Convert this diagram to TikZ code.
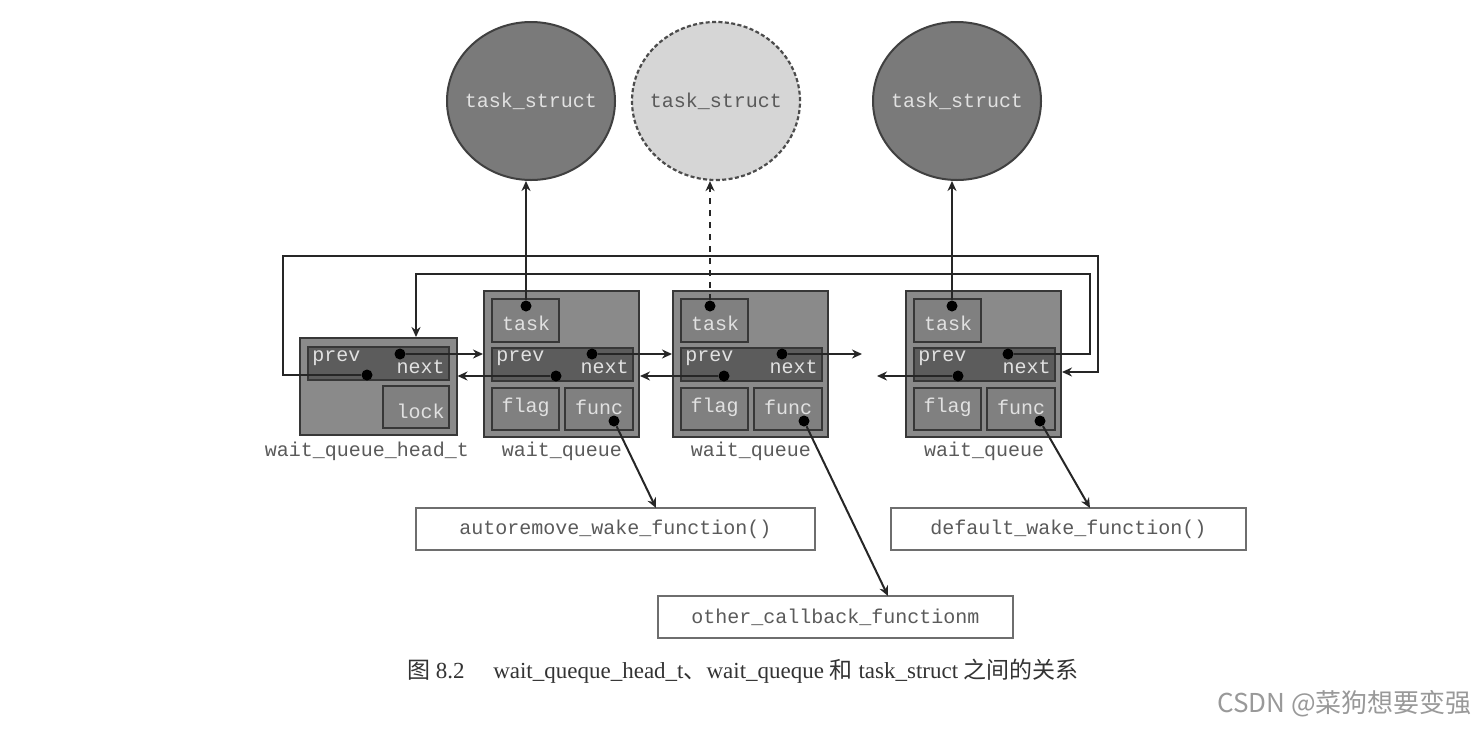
\documentclass[tikz,border=0pt]{standalone}
\usepackage{fontspec}
\setmainfont{Liberation Serif}
\setmonofont{Liberation Mono}
\newfontfamily\cjk{Noto Sans CJK SC}
\usetikzlibrary{arrows.meta,shapes.geometric}
\definecolor{boxfill}{RGB}{138,138,138}
\definecolor{cellfill}{RGB}{128,128,128}
\definecolor{barfill}{RGB}{92,92,92}
\definecolor{celltext}{RGB}{225,225,225}
\definecolor{circdark}{RGB}{122,122,122}
\definecolor{circlight}{RGB}{214,214,214}
\definecolor{labelgray}{RGB}{90,90,90}
\definecolor{edgegray}{RGB}{55,55,55}
\definecolor{fnedge}{RGB}{110,110,110}
\tikzset{
  mono/.style={font=\ttfamily\fontsize{10}{12}\selectfont},
  outerbox/.style={draw=edgegray, line width=1pt, fill=boxfill, inner sep=0pt},
  cell/.style={draw=edgegray, line width=0.9pt, fill=cellfill, inner sep=0pt, mono, text=celltext},
  barbox/.style={draw=edgegray, line width=0.9pt, fill=barfill, inner sep=0pt, minimum width=70.5pt, minimum height=16.5pt},
  celltxt/.style={mono, text=celltext, inner sep=0pt},
  undertxt/.style={mono, text=labelgray, inner sep=0pt},
  dot/.style={circle, fill=black, inner sep=0pt, minimum size=5.5pt},
  arr/.style={-{Stealth[length=5pt,width=4.5pt]}, line width=1pt, draw=black!85},
  taskcirc/.style={ellipse, minimum width=84pt, minimum height=79pt, line width=1pt, inner sep=0pt},
  fnbox/.style={draw=fnedge, line width=0.8pt, fill=white, mono, text=labelgray, minimum height=21pt, inner sep=0pt}
}
\begin{document}
\begin{tikzpicture}[x=0.5pt,y=-0.5pt]
\useasboundingbox[fill=white] (0,0) rectangle (1483,729);

% task_struct circles
\node[taskcirc, draw=black!75, fill=circdark] (c1) at (531,101) {};
\node[taskcirc, draw=black!70, fill=circlight, dash pattern=on 2pt off 1.2pt, line width=1.1pt] (c2) at (716,101) {};
\node[taskcirc, draw=black!75, fill=circdark] (c3) at (957,101) {};
\node[celltxt] (c1txt) at (c1) {task\_struct};
\node[undertxt] (c2txt) at (c2) {task\_struct};
\node[celltxt] (c3txt) at (c3) {task\_struct};

% wait_queue_head_t
\node[outerbox, minimum width=78.5pt, minimum height=48.5pt] (head) at (378,386.5) {};
\node[barbox] (hbar) at (378.5,363.5) {};
\node[cell, minimum width=33pt, minimum height=21pt] (lock) at (416,407) {};
\node[celltxt, anchor=base east] (locktxt) at (445,418) {lock};
\node[celltxt, anchor=base west] (hprevtxt) at (312,361) {prev};
\node[celltxt, anchor=base east] (hnexttxt) at (445,373) {next};
\node[undertxt] (hlab) at (367,451) {wait\_queue\_head\_t};
\node[dot] (hn) at (400,354) {};
\node[dot] (hp) at (367,375) {};

% wait_queue entries
\foreach \i/\x/\p/\n/\t/\f in {1/484/72/108/42/130, 2/673/51/109/37/131, 3/906/52/102/46/134}{
  \node[outerbox, minimum width=77.5pt, minimum height=73pt] (wq\i) at (\x+77.5,364) {};
  \node[cell, minimum width=33.5pt, minimum height=21.5pt] (task\i) at (\x+41.5,320.5) {};
  \node[celltxt] (tasktxt\i) at (\x+42,323) {task};
  \node[barbox] (bar\i) at (\x+78.5,364.5) {};
  \node[celltxt, anchor=base west] (prevtxt\i) at (\x+12,361) {prev};
  \node[celltxt, anchor=base east] (nexttxt\i) at (\x+145,373) {next};
  \node[cell, minimum width=33.5pt, minimum height=21pt] (flag\i) at (\x+41.5,409) {};
  \node[celltxt] (flagtxt\i) at (\x+41.5,407) {flag};
  \node[cell, minimum width=34pt, minimum height=21pt] (func\i) at (\x+115,409) {};
  \node[celltxt] (functxt\i) at (\x+115,407) {func};
  \node[undertxt] (lab\i) at (\x+78,451) {wait\_queue};
  \node[dot] (td\i) at (\x+\t,306) {};
  \node[dot] (nd\i) at (\x+\n,354) {};
  \node[dot] (pd\i) at (\x+\p,376) {};
  \node[dot] (fd\i) at (\x+\f,421) {};
}

% function boxes
\node[fnbox, minimum width=199.5pt] (auto) at (615.5,529) {autoremove\_wake\_function()};
\node[fnbox, minimum width=177.5pt] (deflt) at (1068.5,529) {default\_wake\_function()};
\node[fnbox, minimum width=177.5pt] (other) at (835.5,617) {other\_callback\_functionm};

% helper coordinates
\coordinate (free1) at (862,354);
\coordinate (free2) at (877,376);
\coordinate (r1) at (1090,274);
\coordinate (l1) at (416,274);
\coordinate (l2) at (283,256);
\coordinate (r2) at (1098,256);
\coordinate (r3) at (1098,372);
\coordinate (ta) at (656,508);
\coordinate (tb) at (888,596);
\coordinate (tc) at (1090,508);

% task pointers
\draw[arr] (td1) -- (td1 |- c1.south);
\draw[arr, dashed] (td2) -- (td2 |- c2.south);
\draw[arr] (td3) -- (td3 |- c3.south);

% list links
\draw[arr] (hn) -- (hn -| wq1.west);
\draw[arr] (pd1) -- (pd1 -| head.east);
\draw[arr] (nd1) -- (nd1 -| wq2.west);
\draw[arr] (pd2) -- (pd2 -| wq1.east);
\draw[arr] (nd2) -- (free1);
\draw[arr] (pd3) -- (free2);
\draw[arr] (nd3) -| (r1) -- (l1) -- (l1 |- head.north);
\draw[arr] (hp) -| (l2) -- (r2) -- (r3) -- (r3 -| wq3.east);

% func pointers
\draw[arr] (fd1) -- (ta);
\draw[arr] (fd2) -- (tb);
\draw[arr] (fd3) -- (tc);

% caption and watermark
\node[text=black!80, font=\fontsize{11.5}{13}\selectfont] (cap) at (743,671)
  {{\cjk 图} 8.2\quad\ wait\_queque\_head\_t{\cjk 、}wait\_queque {\cjk 和} task\_struct {\cjk 之间的关系}};
\node[anchor=east, text=black!40, font=\cjk\fontsize{13}{15}\selectfont] (wm) at (1479,704) {CSDN @菜狗想要变强};
\end{tikzpicture}
\end{document}
